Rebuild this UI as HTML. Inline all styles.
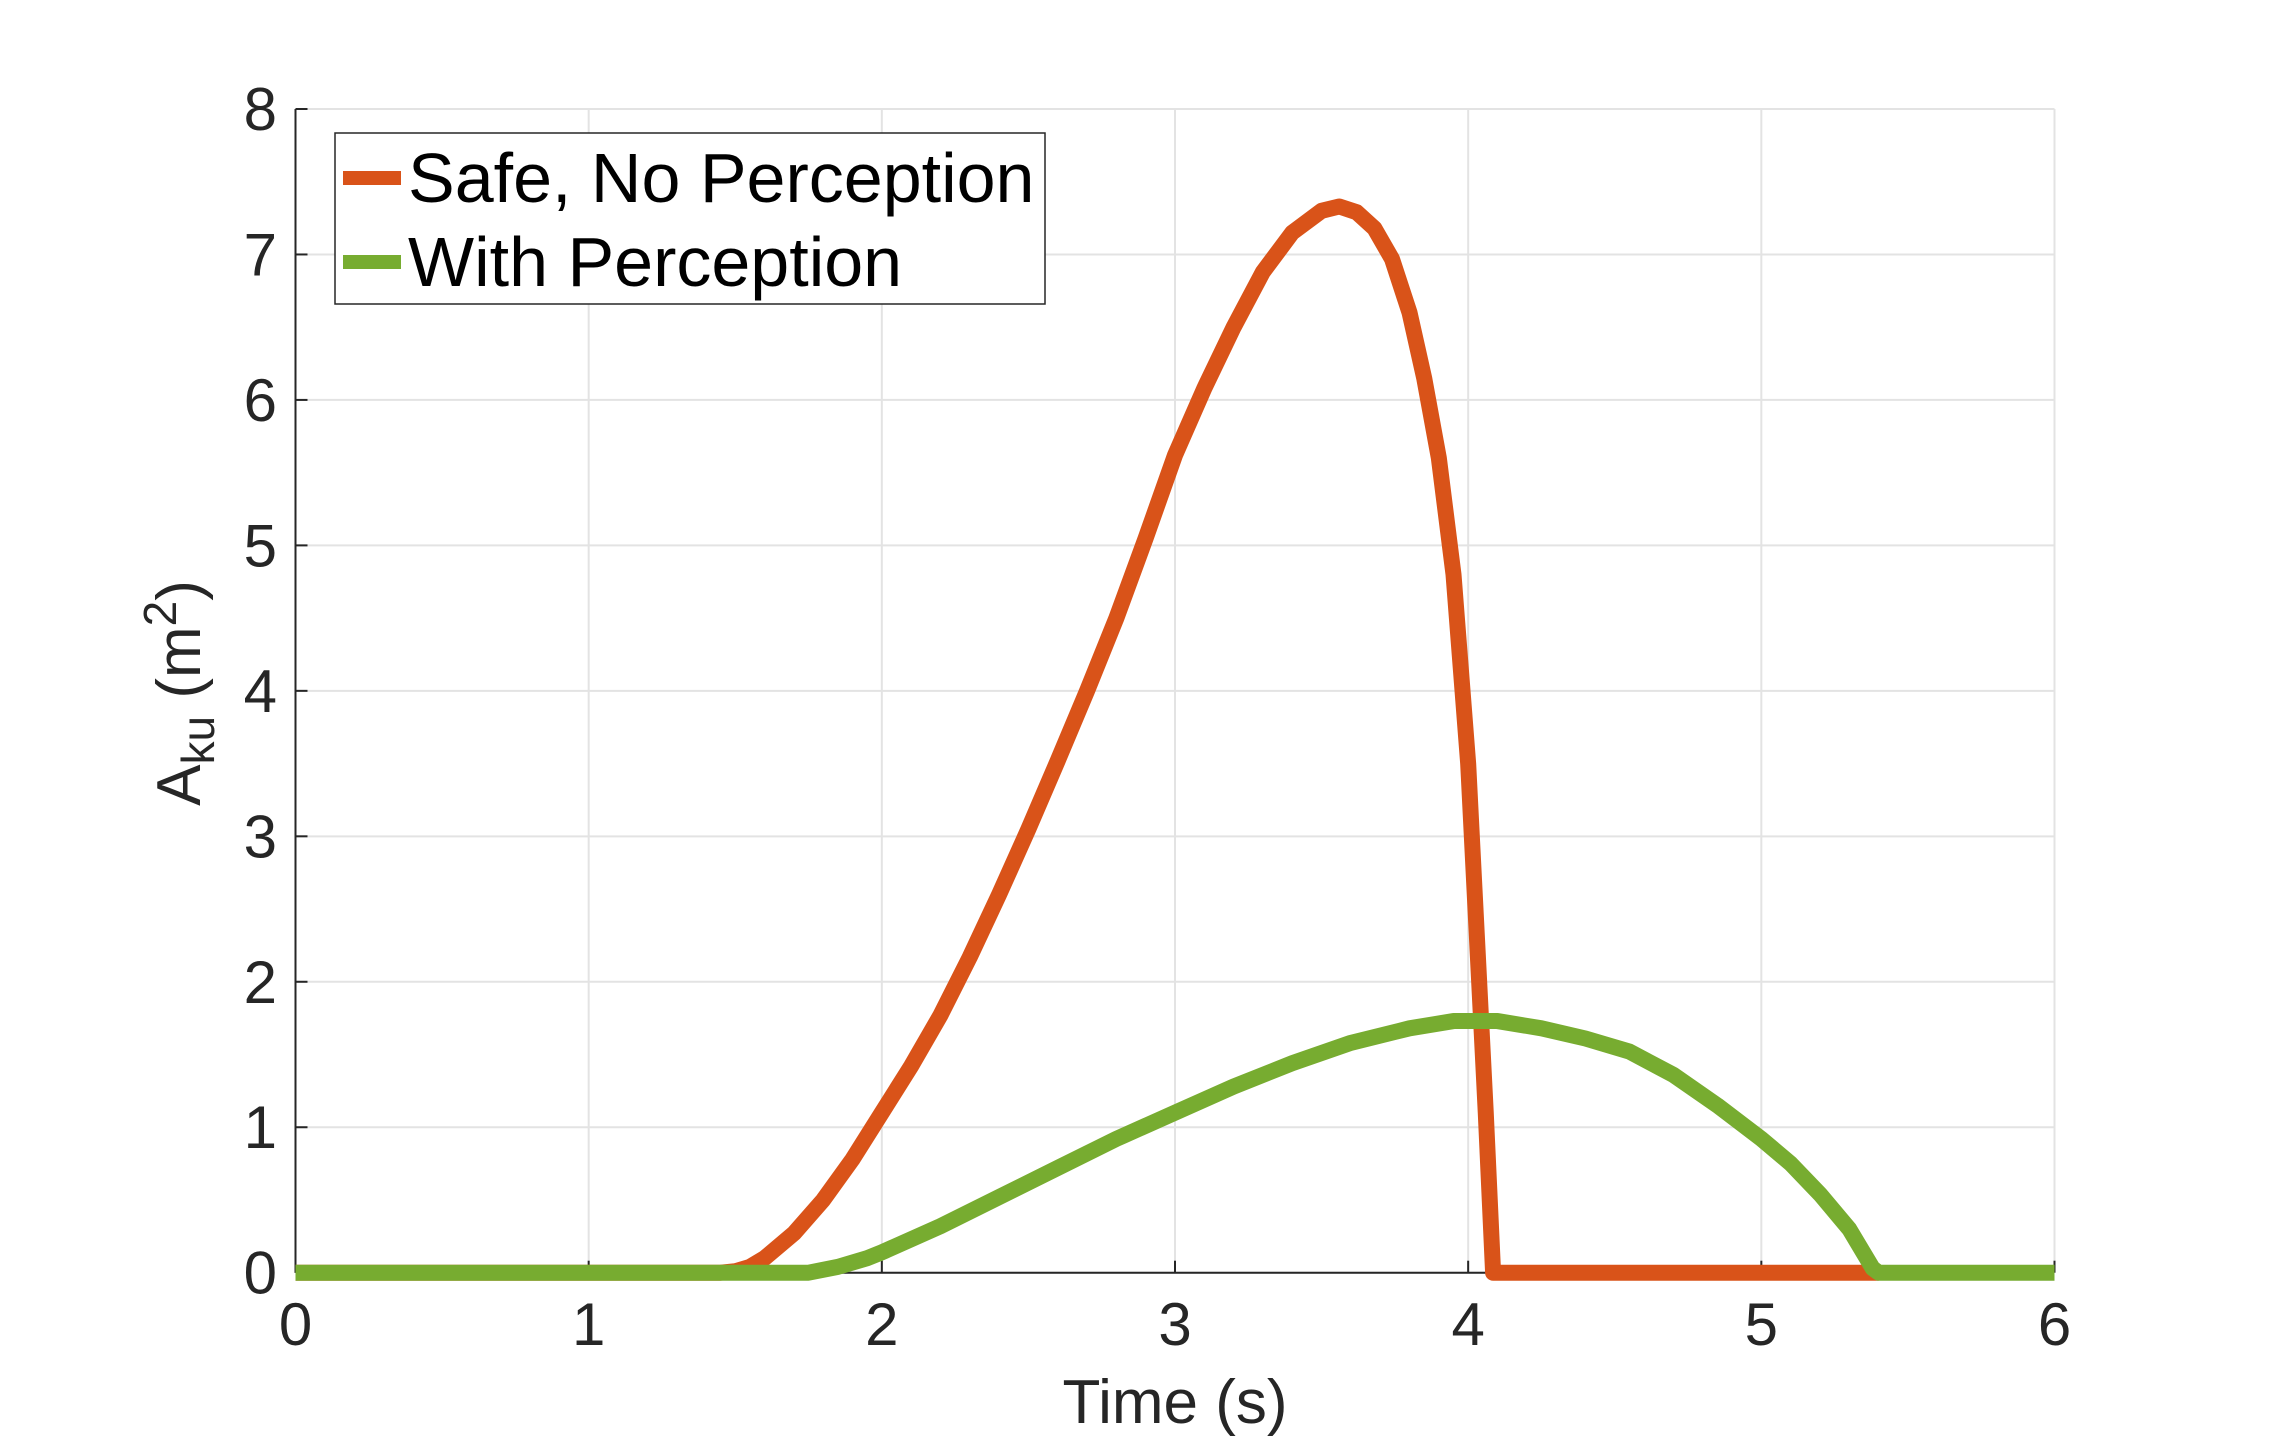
<!DOCTYPE html>
<html><head><meta charset="utf-8"><style>
html,body{margin:0;padding:0;background:#fff;}
svg{display:block;font-family:"Liberation Sans",Arial,sans-serif;}
</style></head><body>
<svg id="chart" width="2272" height="1440" viewBox="0 0 2272 1440">
<g id="grid"></g>
<g id="axes"></g>
<g id="series"></g>
<g>
<rect x="335" y="133" width="710" height="171" fill="#fff" stroke="#262626" stroke-width="1.5"/>
<line x1="343" y1="178" x2="401" y2="178" stroke="#D95319" stroke-width="14"/>
<text x="408" y="202" font-size="70" fill="#000">Safe, No Perception</text>
<line x1="343" y1="262" x2="401" y2="262" stroke="#77AC30" stroke-width="14"/>
<text x="408" y="286" font-size="70" fill="#000">With Perception</text>
</g>
<text x="1175" y="1423" font-size="62" text-anchor="middle" fill="#262626">Time (s)</text>
<text transform="translate(200,693) rotate(-90)" font-size="62" text-anchor="middle" fill="#262626">A<tspan font-size="46" dy="14">ku</tspan><tspan dy="-14"> (m</tspan><tspan font-size="46" dy="-24">2</tspan><tspan dy="24">)</tspan></text>
</svg>
<script>
const xTicks=[0,1,2,3,4,5,6];
const yTicks=[0,1,2,3,4,5,6,7,8];
const safeT=[0,1.45,1.5,1.55,1.6,1.7,1.8,1.9,2.0,2.1,2.2,2.3,2.4,2.5,2.6,2.7,2.8,2.9,3.0,3.1,3.2,3.3,3.4,3.5,3.56,3.62,3.68,3.74,3.8,3.85,3.9,3.95,4.0,4.03,4.06,4.085,5.4];
const safeV=[0,0,0.01,0.04,0.1,0.27,0.5,0.78,1.1,1.42,1.77,2.17,2.6,3.05,3.52,4.0,4.5,5.05,5.62,6.08,6.5,6.88,7.15,7.3,7.33,7.29,7.18,6.97,6.6,6.15,5.6,4.8,3.5,2.3,1.1,0,0];
const percT=[0,1.75,1.85,1.95,2.0,2.2,2.4,2.6,2.8,3.0,3.2,3.4,3.6,3.8,3.95,4.1,4.25,4.4,4.55,4.7,4.85,5.0,5.1,5.2,5.3,5.38,5.4,6];
const percV=[0,0,0.04,0.1,0.14,0.32,0.52,0.72,0.92,1.1,1.28,1.44,1.58,1.68,1.73,1.73,1.68,1.61,1.52,1.36,1.15,0.92,0.75,0.54,0.3,0.03,0,0];
const X0=295.5,X1=2054.5,Y0=1272.7,Y1=109;
const xs=v=>X0+(v-0)/6*(X1-X0);
const ys=v=>Y0-(v-0)/8*(Y0-Y1);
const NS="http://www.w3.org/2000/svg";
function mk(tag,attrs,parent){const e=document.createElementNS(NS,tag);for(const k in attrs)e.setAttribute(k,attrs[k]);parent.appendChild(e);return e;}
const grid=document.getElementById('grid'),axes=document.getElementById('axes'),series=document.getElementById('series');
xTicks.forEach(t=>{
 const g=mk('line',{x1:xs(t),x2:xs(t),y1:Y1,y2:Y0,stroke:'#e3e3e3','stroke-width':2},grid);
 
 
 const tx=mk('text',{x:xs(t),y:1345,'font-size':60,'text-anchor':'middle',fill:'#262626'},axes);
 tx.textContent=t;
 
 
 mk('line',{x1:xs(t),x2:xs(t),y1:Y0,y2:Y0-12,stroke:'#262626','stroke-width':2},axes);
});
yTicks.forEach(t=>{
 const g=mk('line',{x1:X0,x2:X1,y1:ys(t),y2:ys(t),stroke:'#e3e3e3','stroke-width':2},grid);
 
 
 const tx=mk('text',{x:277,y:ys(t)+21,'font-size':60,'text-anchor':'end',fill:'#262626'},axes);
 tx.textContent=t;
 
 
 mk('line',{x1:X0,x2:X0+12,y1:ys(t),y2:ys(t),stroke:'#262626','stroke-width':2},axes);
});
mk('line',{x1:X0,x2:X1,y1:Y0,y2:Y0,stroke:'#262626','stroke-width':2},axes);
mk('line',{x1:X0,x2:X0,y1:Y1,y2:Y0,stroke:'#262626','stroke-width':2},axes);
const pts=(T,V)=>T.map((t,i)=>xs(t)+','+ys(V[i])).join(' ');
const ps=mk('polyline',{points:pts(safeT,safeV),fill:'none',stroke:'#D95319','stroke-width':16,'stroke-linejoin':'round'},series);


const pp=mk('polyline',{points:pts(percT,percV),fill:'none',stroke:'#77AC30','stroke-width':16,'stroke-linejoin':'round'},series);


</script>
</body></html>
